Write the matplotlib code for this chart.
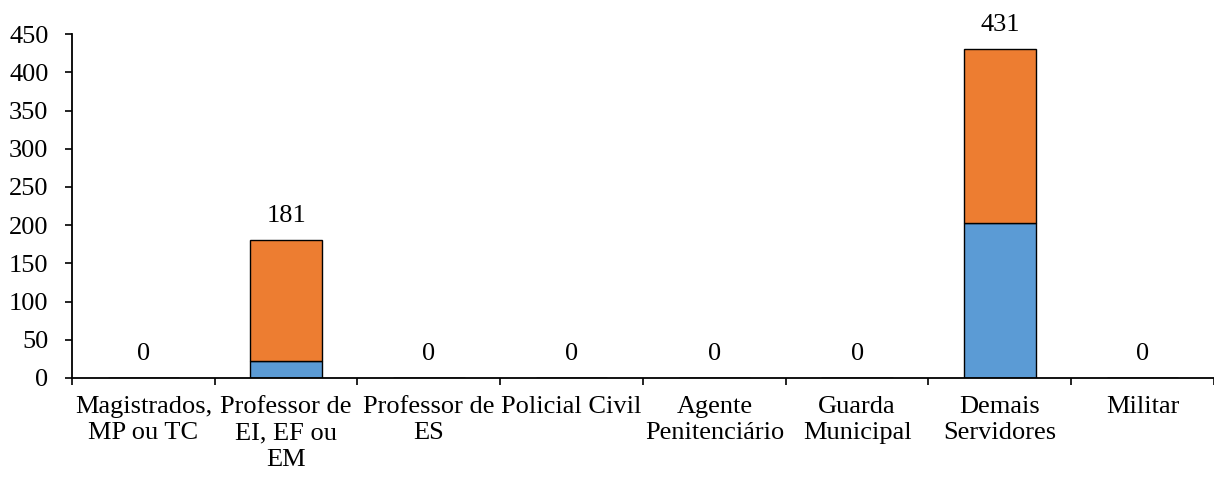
import matplotlib
matplotlib.use('Agg')
import matplotlib.pyplot as plt
import numpy as np

# Dados
categorias = ['Magistrados,\nMP ou TC', 'Professor de\nEI, EF ou\nEM', 'Professor de\nES',
              'Policial Civil', 'Agente\nPenitenciário', 'Guarda\nMunicipal',
              'Demais\nServidores', 'Militar']
serie_azul = [0, 22, 0, 0, 0, 0, 203, 0]
serie_laranja = [0, 159, 0, 0, 0, 0, 228, 0]
totais = [0, 181, 0, 0, 0, 0, 431, 0]

plt.rcParams['font.family'] = ['Liberation Serif', 'DejaVu Serif']
plt.rcParams['font.size'] = 19

fig = plt.figure(figsize=(12.14, 4.8), dpi=100)
ax = fig.add_axes([0.0593, 0.2125, 0.9407, 0.7165])

x = np.arange(len(categorias))
ax.bar(x, serie_azul, width=0.5, color='#5B9BD5', edgecolor='black', linewidth=1)
ax.bar(x, serie_laranja, width=0.5, bottom=serie_azul, color='#ED7D31',
       edgecolor='black', linewidth=1)

for xi, t in zip(x, totais):
    ax.annotate(str(t), (xi, t), xytext=(0, 9), textcoords='offset points',
                ha='center', va='bottom')

ax.set_xlim(-0.5, len(categorias) - 0.5)
ax.set_ylim(0, 450)
ax.set_yticks(range(0, 451, 50))

ax.set_xticks(np.arange(-0.5, len(categorias), 1))
ax.set_xticklabels([])
ax.set_xticks(x, minor=True)
ax.set_xticklabels(categorias, minor=True, linespacing=1.25)
ax.tick_params(axis='x', which='minor', length=0, pad=13)
ax.tick_params(axis='x', which='major', length=5, width=1.2, direction='out')
ax.tick_params(axis='y', length=5, width=1.2, direction='out', pad=12)

for s in ['top', 'right']:
    ax.spines[s].set_visible(False)
ax.spines['left'].set_linewidth(1.3)
ax.spines['bottom'].set_linewidth(1.3)

fig.savefig('out.png', dpi=100)
